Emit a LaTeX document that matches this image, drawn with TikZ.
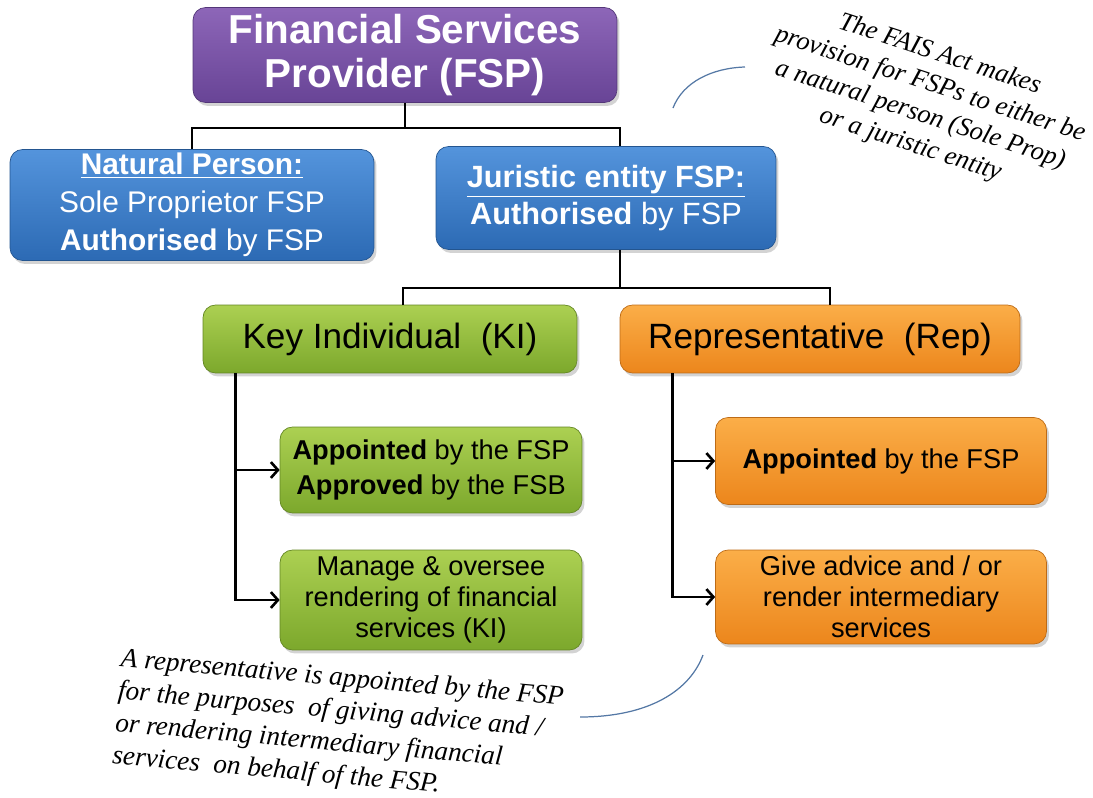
\documentclass[tikz,border=0pt]{standalone}
\usepackage{fontspec}
\setmainfont{Liberation Sans}
\newfontfamily\handfont{Liberation Serif}
\usetikzlibrary{arrows, arrows.meta, positioning, calc, shadows}
\definecolor{fsptop}{RGB}{141,102,184}
\definecolor{fspbot}{RGB}{104,68,150}
\definecolor{bluetop}{RGB}{84,148,220}
\definecolor{bluebot}{RGB}{44,106,180}
\definecolor{greentop}{RGB}{172,208,82}
\definecolor{greenbot}{RGB}{124,168,44}
\definecolor{orangetop}{RGB}{251,174,72}
\definecolor{orangebot}{RGB}{236,134,28}
\definecolor{notecolor}{RGB}{84,120,165}

\begin{document}
\begin{tikzpicture}[x=0.02cm, y=-0.02cm, >={Straight Barb[length=4pt,width=9pt]},
    box/.style={rectangle, rounded corners=0.25cm, align=center, inner sep=2pt,
        drop shadow={opacity=0.35, shadow xshift=0.05cm, shadow yshift=-0.07cm}},
    purplebox/.style={box, top color=fsptop, bottom color=fspbot, draw=fspbot!80!black, text=white},
    bluebox/.style={box, top color=bluetop, bottom color=bluebot, draw=bluebot!80!black, text=white},
    greenbox/.style={box, top color=greentop, bottom color=greenbot, draw=greenbot!80!black, text=black},
    orangebox/.style={box, top color=orangetop, bottom color=orangebot, draw=orangebot!80!black, text=black},
    conn/.style={draw=black, line width=1.5pt},
    note/.style={font=\handfont\itshape\fontsize{15}{18}\selectfont, text=black},
    notecurve/.style={draw=notecolor, line width=0.7pt}]
        \useasboundingbox (0,0) rectangle (1093,798);

        % FSP
        \node[purplebox, minimum width=8.48cm, minimum height=1.9cm, font=\bfseries\fontsize{23}{25}\selectfont] (fsp) at (405,55) {Financial Services\\Provider (FSP)};

        % Natural person and juristic entity
        \node[bluebox, minimum width=7.28cm, minimum height=2.22cm, font=\fontsize{17}{21.5}\selectfont] (np) at (192,205) {\textbf{\underline{Natural Person:}}\\Sole Proprietor FSP\\\textbf{Authorised} by FSP};
        \node[bluebox, minimum width=6.8cm, minimum height=2.06cm, font=\fontsize{17.5}{21.5}\selectfont] (jur) at (606,198) {\textbf{\underline{Juristic entity FSP:}}\\\textbf{Authorised} by FSP};

        % Key individual and representative
        \node[greenbox, minimum width=7.48cm, minimum height=1.36cm, font=\fontsize{20}{24}\selectfont] (ki) at (390,339) {Key Individual \ (KI)};
        \node[orangebox, minimum width=8cm, minimum height=1.36cm, font=\fontsize{20}{24}\selectfont] (rep) at (820,339) {Representative \ (Rep)};

        % KI duties
        \node[greenbox, minimum width=6.04cm, minimum height=1.72cm, font=\fontsize{15.5}{19.5}\selectfont] (kiapp) at (431,470) {\textbf{Appointed} by the FSP\\\textbf{Approved} by the FSB};
        \node[greenbox, minimum width=6.04cm, minimum height=2cm, font=\fontsize{15.5}{17.5}\selectfont] (kiman) at (431,600) {Manage \& oversee\\rendering of financial\\services (KI)};

        % Rep duties
        \node[orangebox, minimum width=6.62cm, minimum height=1.74cm, font=\fontsize{15.5}{19.5}\selectfont] (repapp) at (881,461) {\textbf{Appointed} by the FSP};
        \node[orangebox, minimum width=6.62cm, minimum height=1.88cm, font=\fontsize{15.5}{17.5}\selectfont] (repadv) at (881,597) {Give advice and / or\\render intermediary\\services};

        % Connecting lines
        \coordinate (fspjoin) at ($(fsp.south)+(0,25)$);
        \draw[conn] (fsp.south) -- (fspjoin);
        \draw[conn] (np.north) |- (fspjoin) -| ($(jur.north)+(14,0)$);
        \coordinate (jurjoin) at ($(jur.south)+(14,38)$);
        \draw[conn] ($(jur.south)+(14,0)$) -- (jurjoin);
        \draw[conn] ($(ki.north)+(13,0)$) |- (jurjoin) -| ($(rep.north)+(10,0)$);

        % Arrows
        \coordinate (kix) at ($(ki.south west)+(33,0)$);
        \draw[conn, ->] (kix) |- (kiman.west);
        \draw[conn, ->] (kix |- kiapp.west) -- (kiapp.west);
        \coordinate (repx) at ($(rep.south west)+(53,0)$);
        \draw[conn, ->] (repx) |- (repadv.west);
        \draw[conn, ->] (repx |- repapp.west) -- (repapp.west);

        % Notes
        \node[note, rotate=-18, align=center] (faisnote) at (925,100) {The FAIS Act makes\\provision for FSPs to either be\\a natural person (Sole Prop)\\or a juristic entity};
        \coordinate (faisa) at (673,108);
        \coordinate (faisb) at (745,67);
        \draw[notecurve] (faisa) .. controls (683,82) and (712,68) .. (faisb);

        \node[note, rotate=-5, align=left, font=\handfont\itshape\fontsize{15.5}{18.5}\selectfont] (repnote) at (338,728) {A representative is appointed by the FSP\\for the purposes \ of giving advice and /\\or rendering intermediary financial\\services \ on behalf of the FSP.};
        \coordinate (repnotea) at (580,717);
        \coordinate (repnoteb) at (703,655);
        \draw[notecurve] (repnotea) .. controls (650,717) and (690,690) .. (repnoteb);
\end{tikzpicture}
\end{document}
